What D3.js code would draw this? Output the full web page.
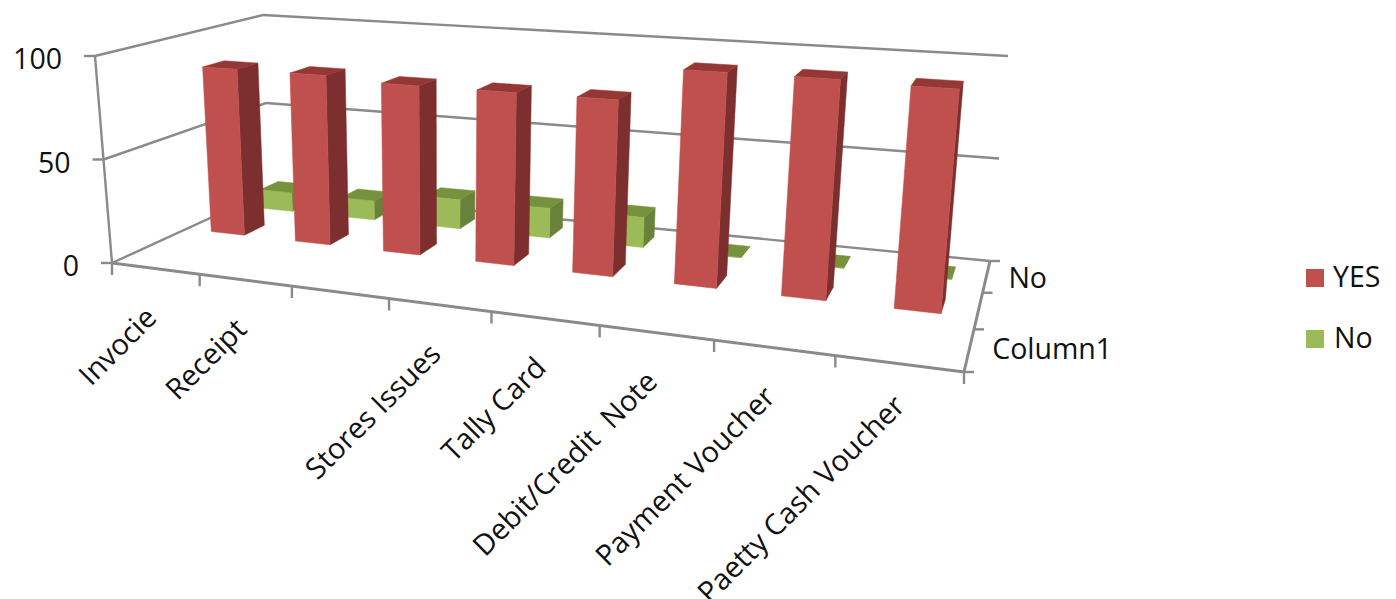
<!DOCTYPE html>
<html>
<head>
<meta charset="utf-8">
<script src="https://cdn.jsdelivr.net/npm/d3@7"></script>
<style>
html,body{margin:0;padding:0;background:#fff;overflow:hidden}
text{font-family:"Open Sans",sans-serif;font-size:28.5px;fill:#111;white-space:pre}
</style>
</head>
<body>
<svg id="chart" width="1396" height="599"></svg>
<script>
// Chart values
const categories = ["Invocie", "Receipt", "", "Stores Issues", "Tally Card", "Debit/Credit  Note", "Payment Voucher", "Paetty Cash Voucher"];
const depthSeries = ["Column1", "YES", "No"];
const yesValues = [85, 85, 83, 83, 83, 99, 99, 98];
const noValues = [10, 10, 15, 15, 15, 0, 0, 0];
const valueTicks = [0, 50, 100];
const depthLabels = ["Column1", "", "No"];
const legendItems = ["YES", "No"];

// Colours for each series: front, top and side faces
const shades = {
  YES: {front: "#c0504d", top: "#953735", side: "#7c2f2e"},
  No: {front: "#9bbb59", top: "#76923c", side: "#68823a"}
};

// Camera: corners of the floor plane and of the plane at the top of the value axis
const floorCorners = [[112, 263], [964, 372], [990, 261], [269, 191]];
const topCorners = [[95, 56], [986, 116], [1008, 56], [263, 15]];
const floorSkew = 1.045;
const topSkew = 0.99;

// Homography from the unit square onto a quadrilateral
function quadMap(q) {
  const dx1 = q[1][0] - q[2][0], dx2 = q[3][0] - q[2][0];
  const dy1 = q[1][1] - q[2][1], dy2 = q[3][1] - q[2][1];
  const sx = q[0][0] - q[1][0] + q[2][0] - q[3][0];
  const sy = q[0][1] - q[1][1] + q[2][1] - q[3][1];
  const det = dx1 * dy2 - dx2 * dy1;
  const g = (sx * dy2 - dx2 * sy) / det, h = (dx1 * sy - sx * dy1) / det;
  const a = q[1][0] - q[0][0] + g * q[1][0], b = q[3][0] - q[0][0] + h * q[3][0];
  const d = q[1][1] - q[0][1] + g * q[1][1], e = q[3][1] - q[0][1] + h * q[3][1];
  return (u, v) => {
    const w = g * u + h * v + 1;
    return [(a * u + b * v + q[0][0]) / w, (d * u + e * v + q[0][1]) / w];
  };
}
const floorMap = quadMap(floorCorners);
const topMap = quadMap(topCorners);

// Scales: depth band and value to height fraction
const vScale = d3.scaleBand().domain(depthSeries).range([0, 1]);
const tScale = d3.scaleLinear().domain([0, 100]).range([0, 1]);
const skewU = (u, m) => m * u / (1 + (m - 1) * u);

function project(u, v, value) {
  const t = tScale(value);
  const p = floorMap(skewU(u, floorSkew), v), q = topMap(skewU(u, topSkew), v);
  return [p[0] + (q[0] - p[0]) * t, p[1] + (q[1] - p[1]) * t];
}

const svg = d3.select("#chart");
const line = d3.line();
const axisColor = "#8a8a8a";

function segment(p, q, width) {
  svg.append("path").attr("d", line([p, q])).attr("fill", "none")
    .attr("stroke", axisColor).attr("stroke-width", width || 2.4);
}

// Gridlines along the side wall and the back wall
valueTicks.forEach(val => {
  segment(project(0, 0, val), project(0, 1, val));
  segment(project(0, 1, val), project(1, 1, val));
  const p = project(0, 0, val);
  segment(p, [p[0] - 11, p[1]]);
  svg.append("text").attr("x", p[0] - 33).attr("y", p[1] + 13)
    .attr("text-anchor", "end").text(val);
});
segment(project(0, 0, 0), project(0, 0, 100));

// Floor edges
segment(project(0, 0, 0), project(1, 0, 0), 3);
segment(project(1, 0, 0), project(1, 1, 0), 3);

// Ticks on the category axis
d3.range(categories.length + 1).forEach(i => {
  const p = project(i / categories.length, 0, 0);
  segment(p, [p[0], p[1] + 12]);
});

// Ticks on the depth axis
d3.range(depthSeries.length + 1).forEach(i => {
  const p = project(1, i / depthSeries.length, 0);
  segment(p, [p[0] + 10, p[1]]);
});

// Category labels, slanted and ending under the middle of each band;
// the longest one sits a little higher
categories.forEach((name, i) => {
  const p = project((i + 0.5) / categories.length, 0, 0);
  const last = i === categories.length - 1;
  svg.append("text")
    .attr("transform", `translate(${p[0] + (last ? 8 : 3)},${p[1] + (last ? 44 : 51)}) rotate(-45)`)
    .attr("text-anchor", "end").style("font-size", "29px").text(name);
});

// Depth labels
depthLabels.forEach((name, i) => {
  if (!name) return;
  const s = (i + 0.5) / depthSeries.length;
  const p = project(1, s, 0);
  svg.append("text").attr("x", p[0] + (i ? 22 : 23)).attr("y", p[1] + (i ? 12 : 9)).text(name);
});

// One box: side and top faces first, the front face last
function box(seriesName, index, value) {
  const gap = 0.3;
  const u0 = (index + gap) / categories.length, u1 = (index + 1 - gap) / categories.length;
  const band = vScale(seriesName), bw = vScale.bandwidth();
  const v0 = band + bw * gap, v1 = band + bw * (1 - gap);
  const colors = shades[seriesName];
  const face = (pts, fill) => svg.append("path").attr("d", line(pts) + "Z")
    .attr("fill", fill).attr("stroke", fill).attr("stroke-width", 0.5);
  face([project(u1, v0, 0), project(u1, v1, 0), project(u1, v1, value), project(u1, v0, value)], colors.side);
  face([project(u0, v0, value), project(u1, v0, value), project(u1, v1, value), project(u0, v1, value)], colors.top);
  face([project(u0, v0, 0), project(u1, v0, 0), project(u1, v0, value), project(u0, v0, value)], colors.front);
}

noValues.forEach((val, i) => box("No", i, val));
yesValues.forEach((val, i) => box("YES", i, val));

// Legend
const legendY = d3.scalePoint().domain(legendItems).range([269, 330]);
legendItems.forEach(name => {
  svg.append("rect").attr("x", 1306).attr("y", legendY(name)).attr("width", 18).attr("height", 18)
    .attr("fill", shades[name].front);
  svg.append("text").attr("x", name === "YES" ? 1333 : 1334).attr("y", legendY(name) + 18).text(name);
});
</script>
</body>
</html>
